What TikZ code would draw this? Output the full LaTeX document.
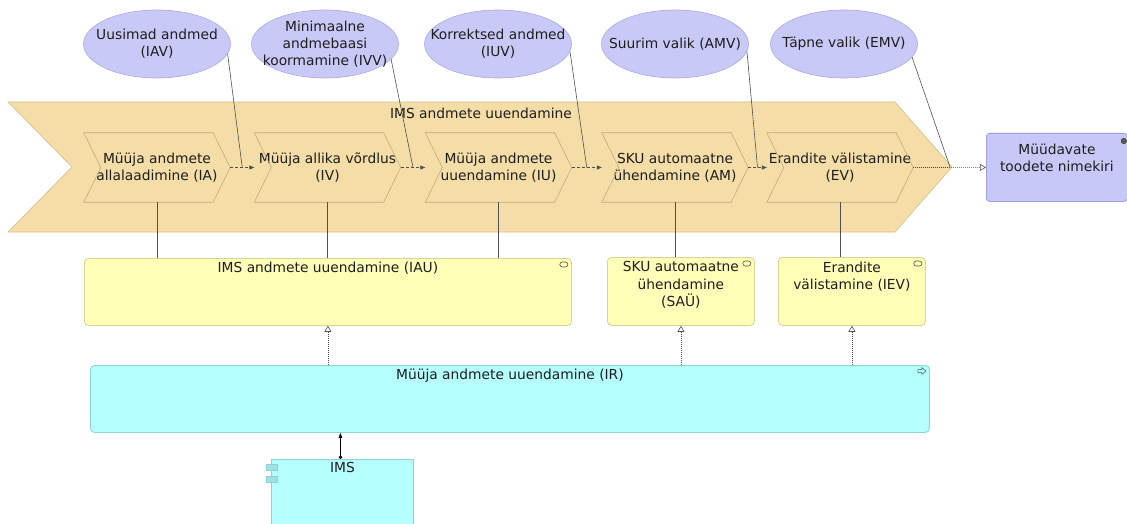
\documentclass[tikz,border=0pt]{standalone}
\usepackage{fontspec}
\setmainfont{DejaVu Sans}
\usetikzlibrary{arrows.meta,shapes.geometric,calc}

\definecolor{stagefill}{RGB}{244,221,166}
\definecolor{stageline}{RGB}{214,190,140}
\definecolor{goalfill}{RGB}{201,201,247}
\definecolor{goalline}{RGB}{170,170,225}
\definecolor{svcfill}{RGB}{255,255,184}
\definecolor{svcline}{RGB}{214,214,150}
\definecolor{appfill}{RGB}{181,255,255}
\definecolor{appline}{RGB}{140,212,212}
\definecolor{compfill}{RGB}{160,225,225}
\definecolor{objfill}{RGB}{200,200,248}
\definecolor{objline}{RGB}{160,160,215}
\definecolor{wire}{RGB}{80,80,80}
\definecolor{ink}{RGB}{30,30,30}

\tikzset{
  txt/.style={font=\fontsize{13.8}{17.3}\selectfont, text=ink},
  goal/.style={ellipse, draw=goalline, fill=goalfill, line width=0.6pt,
    minimum width=147pt, minimum height=68pt, inner sep=0pt},
  goaltext/.style={txt, align=center, inner sep=0pt},
  stagebox/.style={minimum width=146pt, minimum height=69pt, inner sep=0pt,
    align=center, txt},
  stageshape/.style={draw=stageline, fill=stagefill, line width=0.6pt},
  svc/.style={draw=svcline, fill=svcfill, rounded corners=4pt, line width=0.8pt,
    inner sep=0pt},
  app/.style={draw=appline, fill=appfill, rounded corners=4pt, line width=0.8pt,
    inner sep=0pt},
  comp/.style={draw=appline, fill=appfill, line width=0.8pt, inner sep=0pt},
  obj/.style={draw=objline, fill=objfill, rounded corners=3pt, line width=0.8pt,
    inner sep=0pt},
  boxtitle/.style={txt, align=center, anchor=north, inner sep=0pt},
  flow/.style={draw=wire, line width=0.6pt, dash pattern=on 3pt off 2pt,
    -{Triangle[length=5pt,width=4pt]}},
  influence/.style={draw=wire, line width=0.6pt},
  assign/.style={draw=wire, line width=0.6pt},
  realize/.style={draw=wire, line width=0.6pt, dash pattern=on 1pt off 1pt,
    -{Triangle[open,length=6pt,width=7pt]}},
  trigger/.style={draw=wire, line width=0.6pt, dash pattern=on 1pt off 1pt,
    -{Triangle[open,length=6pt,width=7pt]}},
  serve/.style={draw=black, line width=0.7pt,
    {Circle[length=3.5pt]}-{Triangle[length=5pt,width=3.5pt]}},
  iconline/.style={draw=wire, line width=0.6pt},
}

\begin{document}
\begin{tikzpicture}[x=1pt,y=-1pt]
\useasboundingbox (0,0) rectangle (1127,524);

% outer value-stream stage
\coordinate (stagetip) at (952,167);
\draw[stageshape] (8,102) -- (895,102) -- (stagetip) -- (895,232) -- (8,232)
  -- (72,167) -- cycle;
\node[txt] (stagetitle) at (481,113) {IMS andmete uuendamine};

% inner stages
\node[stagebox] (ia) at (157,167.5)   {Müüja andmete\\allalaadimine (IA)};
\node[stagebox] (iv) at (327.5,167.5) {Müüja allika võrdlus\\(IV)};
\node[stagebox] (iu) at (498.5,167.5) {Müüja andmete\\uuendamine (IU)};
\node[stagebox] (am) at (675,167.5)   {SKU automaatne\\ühendamine (AM)};
\node[stagebox] (ev) at (840,167.5)   {Erandite välistamine\\(EV)};

\foreach \n in {ia,iv,iu,am,ev}{
  \draw[stageshape, draw=stageline!90!black, fill=none]
    (\n.north west) -- ([xshift=-17pt]\n.north east) -- (\n.east)
    -- ([xshift=-17pt]\n.south east) -- (\n.south west)
    -- ([xshift=17pt]\n.west) -- cycle;
}

% flows between stages
\draw[flow] (ia.east) -- (iv.west);
\draw[flow] (iv.east) -- (iu.west);
\draw[flow] (iu.east) -- (am.west);
\draw[flow] (am.east) -- (ev.west);

% goals / values
\node[goal] (iav) at (157,44) {};
\node[goal] (ivv) at (325,44) {};
\node[goal] (iuv) at (498,44) {};
\node[goal] (amv) at (675,44) {};
\node[goal] (emv) at (844,44) {};
\node[goaltext] (iavtext) at (iav) {Uusimad andmed\\(IAV)};
\node[goaltext] (ivvtext) at (ivv) {Minimaalne\\andmebaasi\\koormamine (IVV)};
\node[goaltext] (iuvtext) at (iuv) {Korrektsed andmed\\(IUV)};
\node[goaltext] (amvtext) at (amv) {Suurim valik (AMV)};
\node[goaltext] (emvtext) at (emv) {Täpne valik (EMV)};

\draw[influence] (iav.352) -- ($(ia.east)!0.5!(iv.west)$);
\draw[influence] (ivv.347) -- ($(iv.east)!0.5!(iu.west)$);
\draw[influence] (iuv.354) -- ($(iu.east)!0.5!(am.west)$);
\draw[influence] (amv.354) -- ($(am.east)!0.5!(ev.west)$);
\draw[influence] (emv.349) -- ([xshift=-2pt]stagetip);

% product
\node[obj, minimum width=141pt, minimum height=68pt, anchor=north west]
  (mt) at (986,133) {};
\node[boxtitle] (mttitle) at ([yshift=-11pt]mt.north)
  {Müüdavate\\toodete nimekiri};
\filldraw[fill=gray!70!black, draw=gray!40!black, line width=0.4pt]
  ([xshift=-4pt,yshift=-8pt]mt.north east) circle (2.8pt);
\draw[trigger] (ev.east) -- (mt.west);

% application services
\node[svc, minimum width=487pt, minimum height=67pt, anchor=north west]
  (iau) at (84,258) {};
\node[boxtitle] (iautitle) at ([yshift=-4pt]iau.north)
  {IMS andmete uuendamine (IAU)};
\node[svc, minimum width=147pt, minimum height=68pt, anchor=north west]
  (sau) at (607,257) {};
\node[boxtitle] (sautitle) at ([yshift=-4.5pt]sau.north)
  {SKU automaatne\\ühendamine\\(SAÜ)};
\node[svc, minimum width=147pt, minimum height=68pt, anchor=north west]
  (iev) at (778,257) {};
\node[boxtitle] (ievtitle) at ([yshift=-4.5pt]iev.north)
  {Erandite\\välistamine (IEV)};

\foreach \n in {iau,sau,iev}{
  \draw[iconline, rounded corners=2.5pt]
    ([xshift=-12pt,yshift=-4pt]\n.north east) rectangle ++(8pt,-5pt);
}

% stage to service assignments
\draw[assign] (ia.south) -- (ia.south |- iau.north);
\draw[assign] (iv.south) -- (iv.south |- iau.north);
\draw[assign] (iu.south) -- (iu.south |- iau.north);
\draw[assign] (am.south) -- (am.south |- sau.north);
\draw[assign] (ev.south) -- (ev.south |- iev.north);

% application process
\node[app, minimum width=839pt, minimum height=67pt, anchor=north west]
  (ir) at (90,365) {};
\node[boxtitle] (irtitle) at ([yshift=-4pt]ir.north)
  {Müüja andmete uuendamine (IR)};
\begin{scope}[shift={(ir.north east)}]
  \draw[iconline, line width=0.5pt] (-12,4.5) -- (-8,4.5) -- (-8,2.5) -- (-4,6)
    -- (-8,9.5) -- (-8,7.5) -- (-12,7.5) -- cycle;
\end{scope}

\draw[realize] (ir.north -| iau.south) -- (iau.south);
\draw[realize] (ir.north -| sau.south) -- (sau.south);
\draw[realize] (ir.north -| iev.south) -- (iev.south);

% application component
\node[comp, minimum width=142pt, minimum height=80pt, anchor=north west]
  (ims) at (271,459) {};
\node[boxtitle] (imstitle) at ([yshift=-3pt]ims.north) {IMS};
\begin{scope}[shift={(ims.north west)}]
  \draw[comp, fill=compfill] (-5,5) rectangle (6,11);
  \draw[comp, fill=compfill] (-5,17) rectangle (6,23);
\end{scope}

\draw[serve] ([xshift=-2pt]ims.north) -- ([xshift=-2pt]ims.north |- ir.south);
\end{tikzpicture}
\end{document}
